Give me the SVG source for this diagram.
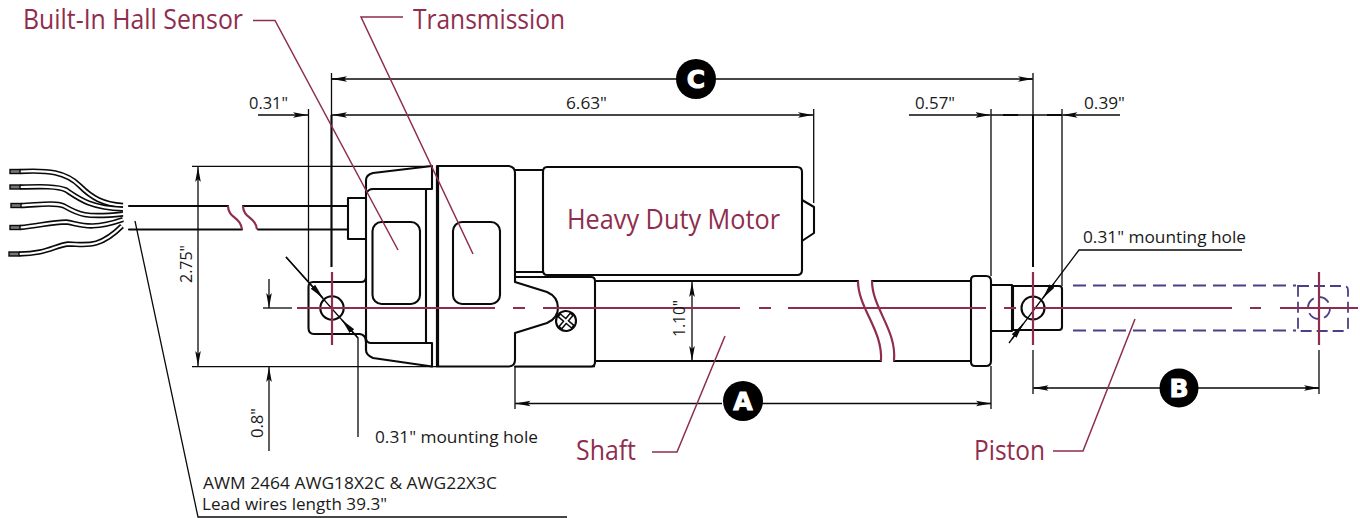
<svg xmlns="http://www.w3.org/2000/svg" width="1360" height="518" viewBox="0 0 1360 518">
<style>
.o{fill:none;stroke:#0a0a0a;stroke-width:2.1;stroke-linecap:round;stroke-linejoin:round}
.d{fill:none;stroke:#0a0a0a;stroke-width:1.3}
.r{fill:none;stroke:#8f2d4e;stroke-width:1.5}
.c{fill:none;stroke:#8f2d4e;stroke-width:2.2}
.g{fill:none;stroke:#4b3f88;stroke-width:1.8;stroke-dasharray:13 7}
.wb{fill:none;stroke:#0a0a0a;stroke-width:5.4}
.ww{fill:none;stroke:#fff;stroke-width:2.2}
.tip{fill:#777;stroke:#0a0a0a;stroke-width:1.4}
.dim{font-family:"Open Sans","Noto Sans",sans-serif;font-size:17px;fill:#1a1a1a}
.note{font-size:15.5px}
.big{font-family:"Open Sans","Noto Sans",sans-serif;font-size:27px;fill:#8f2d4e}
.bl{font-family:"DejaVu Sans",sans-serif;font-weight:bold;font-size:25px;fill:#fff;stroke:#fff;stroke-width:1;text-anchor:middle}
</style>
<defs>
<marker id="a" markerUnits="userSpaceOnUse" markerWidth="16" markerHeight="8" refX="15" refY="4" orient="auto-start-reverse"><path d="M0 1.2L15 4L0 6.8L3 4Z" fill="#0a0a0a"/></marker>
<marker id="v" markerUnits="userSpaceOnUse" markerWidth="16" markerHeight="8" refX="15" refY="4" orient="auto-start-reverse"><path d="M0 1L15 4L0 7Z" fill="#0a0a0a"/></marker>
</defs>

<g id="cable">
<g>
<path class="wb" d="M20 171.500C48 170 66 172 80 186C92 198 103 204 123 205.500"/><path class="ww" d="M20 171.500C48 170 66 172 80 186C92 198 103 204 123 205.500"/>
<path class="wb" d="M20 187C40 186.500 58 186 66 190C78 198 90 208 123 209"/><path class="ww" d="M20 187C40 186.500 58 186 66 190C78 198 90 208 123 209"/>
<path class="wb" d="M21 205.500C38 205 54 202 64 206C78 214 84 218 123 214"/><path class="ww" d="M21 205.500C38 205 54 202 64 206C78 214 84 218 123 214"/>
<path class="wb" d="M20 227.500C38 226 52 222 66 222C80 224 90 231 123 219.500"/><path class="ww" d="M20 227.500C38 226 52 222 66 222C80 224 90 231 123 219.500"/>
<path class="wb" d="M19 254C46 254 54 246 68 244C84 244 98 250 122 226"/><path class="ww" d="M19 254C46 254 54 246 68 244C84 244 98 250 122 226"/>
<rect class="tip" x="10" y="169.500" width="10" height="4"/><rect class="tip" x="10" y="185" width="10" height="4"/><rect class="tip" x="11" y="203.500" width="10" height="4"/><rect class="tip" x="10" y="225.500" width="10" height="4"/><rect class="tip" x="9" y="252" width="10" height="4"/>
</g>
<path class="o" d="M129 206H228M129 229.500H242M243 206H348M258 229.500H348"/>
<path class="c" d="M228 206C228 218 241 217 242 229.500M243 206C243 218 256 217 257 229.500"/>
<path class="o" d="M366 198H348V239H366"/>
</g>

<g id="rear-mount">
<path class="o" d="M366 277Q366 282 361 282H313Q308.500 282 308.500 287V328Q308.500 334 314 334H360Q366 335 366 342"/>
<circle class="o" cx="332" cy="308" r="11.700"/>
</g>

<g id="housing">
<path class="o" d="M366 350V180Q366 175 373 173L432 166V189H373Q368 189 366 194"/>
<path class="o" d="M366 332V350Q366 355 373 358L432 366.500V343H371Q367 343 366 339"/>
<path class="o" d="M426 189V343"/>
<path d="M437.500 166V366.500" fill="none" stroke="#0a0a0a" stroke-width="3.200"/>
<rect class="o" x="372.500" y="222" width="47.500" height="82" rx="9"/>
<rect class="o" x="453" y="222" width="47" height="82" rx="9"/>
<path class="o" d="M437 166H509Q515 167 515 173V282L547 292C554 295 558 301 558 308C558 315 554 320 547 323L515 333V360Q515 366 509 366.500H437"/>
</g>

<g id="motor">
<path class="o" d="M515 170H543M515 272H543"/>
<path class="o" d="M543 172Q543 167 547 167H797Q802 167 802 172V270Q802 275 797 275H547Q543 275 543 270Z"/>
<path class="o" d="M802 200L814 207V233L802 241"/>
</g>

<g id="shaft">
<path class="o" d="M515 277H591Q595 277 595 281V362Q595 366.500 591 366.500H515"/>
<path class="o" d="M595 281H858M872 281H971M595 361H881M894 361H971"/>
<path class="c" d="M858 281C858 308 883 330 881 361M872 281C872 308 897 330 894 361"/>
<g transform="translate(566 321) rotate(40)">
<circle class="o" r="10"/>
<path d="M-10 0H10M0 -10V10" fill="none" stroke="#0a0a0a" stroke-width="5"/>
<path d="M-8 0H8M0 -8V8" fill="none" stroke="#fff" stroke-width="2"/>
</g>
</g>

<g id="piston">
<path class="o" d="M971 280Q971 276 975 276H986Q991 276 991 281V361Q991 366 986 366H975Q971 366 971 362Z"/>
<path class="o" d="M991 285H1012V331H991M1013 286V330"/>
<path class="o" d="M1012 286H1059Q1062 286 1062 289V327Q1062 330 1059 330H1012"/>
<circle class="o" cx="1033" cy="308" r="11.500"/>
</g>

<g id="extended-piston">
<path class="g" d="M1073 285.500H1296M1073 330.500H1296"/>
<path class="g" d="M1298 286H1344Q1348 286 1348 290V327Q1348 331 1344 331H1298Z" style="stroke-dasharray:11 5"/>
<circle class="g" cx="1319" cy="308" r="11" style="stroke-dasharray:12 5"/>
</g>

<g id="connectors">
<g>
<path class="d" d="M192 166.300H432M192 366.700H437M515 366.700H595"/>
<path class="d" d="M198 167V366" marker-start="url(#a)" marker-end="url(#a)"/>
<path class="d" d="M308.500 109V282M331.500 73V267M1033 73V267M991 109V276M1062 109V286M813.700 109V203"/>
<path class="d" style="stroke-width:2" d="M331.500 115V267M1033 115V267"/>
<path class="d" d="M258 115H308" marker-end="url(#a)"/>
<path class="d" d="M332 79H676M716 79H1032"/>
<path class="d" d="M332 79H345" marker-start="url(#a)"/>
<path class="d" d="M1020 79H1033" marker-end="url(#a)"/>
<path class="d" d="M332 115H813" marker-start="url(#a)" marker-end="url(#a)"/>
<path class="d" d="M909 115H990.500" marker-end="url(#a)"/>
<path class="d" d="M1120 115H1062.500" marker-end="url(#a)"/>
<path class="d" d="M991 115H1062"/>
<path class="d" style="stroke-width:2" d="M1003 115H1018M1047 115H1062"/>
<path class="d" d="M263 308H292"/>
<path class="d" d="M269 279V308" marker-end="url(#a)"/>
<path class="d" d="M269 451V367" marker-end="url(#a)"/>
<path class="d" d="M286 257L358 338V437"/>
<path class="d" d="M286 257L323 298" marker-end="url(#v)"/>
<path class="d" d="M358 338L342 320" marker-end="url(#v)"/>
<path class="d" d="M692 282V361" marker-start="url(#a)" marker-end="url(#a)"/>
<path class="d" d="M515 366V409M991 366V409M1033 350V394M1319 350V394"/>
<path class="d" d="M515.500 403.500H722M762 403.500H991"/>
<path class="d" d="M515.500 403.500H530" marker-start="url(#a)"/>
<path class="d" d="M977 403.500H991" marker-end="url(#a)"/>
<path class="d" d="M1033.500 388H1160M1198 388H1319"/>
<path class="d" d="M1033.500 388H1048" marker-start="url(#a)"/>
<path class="d" d="M1305 388H1319" marker-end="url(#a)"/>
<path class="d" d="M1242 250H1079L1009 343"/>
<path class="d" d="M1054 283.300L1043 298" marker-end="url(#v)"/>
<path class="d" d="M1012 339L1023 324" marker-end="url(#v)"/>
<path class="d" d="M135 221L198 517H567"/>
</g>
<g>
<path class="r" d="M253 20.500H275L398 250"/>
<path class="r" d="M403 17H361L473 254"/>
<path class="r" d="M652 452H677L725 336"/>
<path class="r" d="M1053 451H1083L1135 319"/>
</g>
<g>
<path class="c" d="M297 308H495M513 308H525M543 308H740M759 308H771M788 308H986M1004 308H1016M1034 308H1232M1250 308H1261M1280 308H1358"/>
<path class="c" d="M332 272V345M1033 272V345M1319 272V345"/>
</g>
</g>

<g id="badge-c"><circle cx="696" cy="79" r="20" fill="#000"/><text class="bl" x="696" y="88">C</text></g>
<g id="badge-a"><circle cx="743" cy="401" r="20" fill="#000"/><text class="bl" x="743" y="410">A</text></g>
<g id="badge-b"><circle cx="1179" cy="388" r="19.500" fill="#000"/><text class="bl" x="1179" y="397">B</text></g>

<g id="labels">
<text class="big" x="23" y="29" textLength="220" lengthAdjust="spacingAndGlyphs">Built-In Hall Sensor</text>
<text class="big" x="413" y="29" textLength="152" lengthAdjust="spacingAndGlyphs">Transmission</text>
<text class="big" x="567" y="229" textLength="213" lengthAdjust="spacingAndGlyphs">Heavy Duty Motor</text>
<text class="big" x="576" y="460" textLength="60" lengthAdjust="spacingAndGlyphs">Shaft</text>
<text class="big" x="974" y="460" textLength="71" lengthAdjust="spacingAndGlyphs">Piston</text>
<text class="dim" x="249" y="109" textLength="39" lengthAdjust="spacingAndGlyphs">0.31"</text>
<text class="dim" x="566" y="109" textLength="41" lengthAdjust="spacingAndGlyphs">6.63"</text>
<text class="dim" x="915" y="109" textLength="40" lengthAdjust="spacingAndGlyphs">0.57"</text>
<text class="dim" x="1084" y="109" textLength="41" lengthAdjust="spacingAndGlyphs">0.39"</text>
<text class="dim" transform="translate(192 283) rotate(-90)" textLength="38" lengthAdjust="spacingAndGlyphs">2.75"</text>
<text class="dim" transform="translate(685 337) rotate(-90)" textLength="37" lengthAdjust="spacingAndGlyphs">1.10"</text>
<text class="dim" transform="translate(263 438) rotate(-90)" textLength="30" lengthAdjust="spacingAndGlyphs">0.8"</text>
<text class="dim" x="375" y="443" textLength="163" lengthAdjust="spacingAndGlyphs">0.31" mounting hole</text>
<text class="dim" x="1083" y="243" textLength="163" lengthAdjust="spacingAndGlyphs">0.31" mounting hole</text>
<text class="dim note" x="203" y="488.500" textLength="294" lengthAdjust="spacingAndGlyphs">AWM 2464 AWG18X2C &amp; AWG22X3C</text>
<text class="dim note" x="202" y="509.500" textLength="185" lengthAdjust="spacingAndGlyphs">Lead wires length 39.3"</text>
</g>
</svg>
